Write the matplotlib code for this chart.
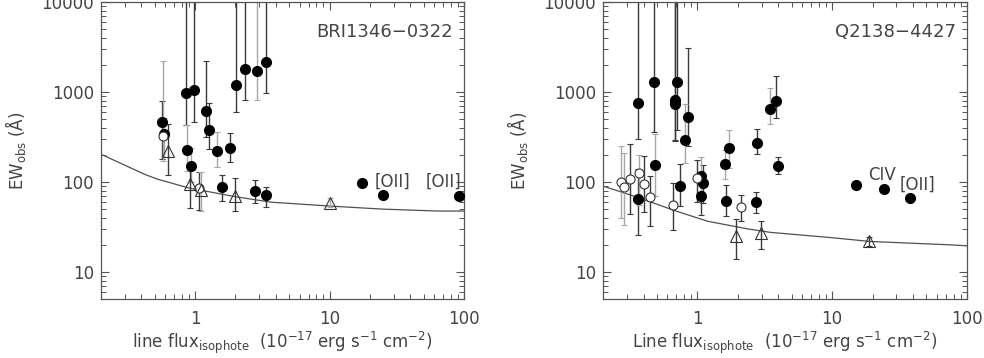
import numpy as np
import matplotlib
matplotlib.use("Agg")
import matplotlib.pyplot as plt
from matplotlib.ticker import FixedLocator, NullFormatter, FuncFormatter, LogLocator

plt.rcParams['font.family'] = ['DejaVu Sans']
plt.rcParams['mathtext.default'] = 'regular'

TOP = 1e5  # error bars running off the top of the panel

# ---------------- Left panel: BRI1346-0322 ----------------
L_fill_dark_x = [0.565, 0.857, 0.99, 1.21, 1.27, 1.83, 2.01, 2.35, 3.37, 1.58, 2.79, 3.35]
L_fill_dark_y = [464, 967, 1060, 610, 381, 236, 1186, 1800, 2154, 88, 79, 71]
L_fill_dark_lo = [180, 430, 460, 316, 232, 167, 600, 820, 980, 61, 59, 53]
L_fill_dark_hi = [800, TOP, TOP, 2200, 750, 350, TOP, TOP, TOP, 119, 105, 88]

L_fill_gray_x = [0.585, 0.87, 0.93, 1.45, 2.89]
L_fill_gray_y = [339, 227, 149, 223, 1700]
L_fill_gray_lo = [190, 132, 100, 147, 815]
L_fill_gray_hi = [520, 430, 238, 360, TOP]

L_fill_noerr_x = [17.5, 25.2, 91.9]
L_fill_noerr_y = [98, 72, 70]

L_open_x = [0.58, 1.07]
L_open_y = [324, 86]
L_open_lo = [170, 49]
L_open_hi = [2200, 129]
L_open_gray = [True, False]

L_tri_x = [0.63, 0.92, 1.11, 1.99, 10.05]
L_tri_y = [221, 94, 81, 70, 58]
L_tri_lo = [120, 51, 48, 48, 52]
L_tri_hi = [440, 140, 129, 112, 67]
L_tri_gray = [False, False, True, False, True]

L_curve_x = [0.2, 0.42, 0.52, 0.89, 2.0, 3.7, 10, 24, 63, 100]
L_curve_y = [203, 122, 108, 86, 68.5, 59.5, 54, 50, 47.5, 47.5]

L_labels = ["[OII]", "[OII]"]
L_label_x = [29.4, 70.2]
L_label_y = [101, 101]

# ---------------- Right panel: Q2138-4427 ----------------
R_fill_dark_x = [0.364, 0.364, 0.475, 0.68, 0.68, 0.71, 0.85, 0.74, 1.11, 1.06, 1.64, 2.77, 3.85, 3.94, 2.72]
R_fill_dark_y = [755, 64, 1290, 809, 730, 1290, 527, 90, 97, 70, 62, 273, 788, 152, 60]
R_fill_dark_lo = [300, 26, 362, 285, 290, 375, 251, 54, 59, 43, 42, 203, 510, 124, 45]
R_fill_dark_hi = [TOP, 140, TOP, TOP, TOP, TOP, 3100, 160, 153, 110, 93, 391, 1495, 190, 78]

R_fill_gray_x = [0.483, 0.81, 1.06, 1.61, 1.73, 3.46, 15.0]
R_fill_gray_y = [155, 293, 117, 158, 241, 647, 93]
R_fill_gray_lo = [70, 162, 75, 108, 144, 437, 85]
R_fill_gray_hi = [340, 735, 187, 227, 378, 1120, 102]

R_fill_noerr_x = [24.4, 37.5]
R_fill_noerr_y = [83, 67]

R_open_x = [0.272, 0.288, 0.317, 0.372, 0.405, 0.45, 0.665, 1.0, 2.1]
R_open_y = [101, 88, 107, 125, 94, 68, 56, 110, 52]
R_open_lo = [40, 33, 44, 55, 46, 32, 29, 60, 37]
R_open_hi = [250, 212, 264, 200, 195, 116, 97, 175, 72]
R_open_gray = [True, True, False, True, False, False, False, False, False]

R_tri_x = [1.94, 2.97, 18.8]
R_tri_y = [25, 27, 22]
R_tri_lo = [14, 18, 19.5]
R_tri_hi = [39, 37, 24.5]
R_tri_gray = [False, False, False]

R_curve_x = [0.2, 0.366, 0.68, 1.2, 2.39, 3.5, 10, 19.1, 75, 100]
R_curve_y = [90, 67, 48, 36.5, 30, 27.5, 24, 21.8, 20, 19.5]

R_labels = ["CIV", "[OII]"]
R_label_x = [23.5, 42.9]
R_label_y = [118, 92]

DARK = '#3a3a3a'
GRAY = '#a8a8a8'
TXT = '#444444'


def errs(y, lo, hi):
    y = np.asarray(y, float)
    return np.vstack([y - np.asarray(lo, float), np.asarray(hi, float) - y])


def draw_panel(ax, d, title, xlabel_word):
    kw = dict(ls='none', elinewidth=1.0, capsize=2, capthick=0.8, zorder=2)
    ax.errorbar(d['fdx'], d['fdy'], yerr=errs(d['fdy'], d['fdlo'], d['fdhi']), fmt='none', ecolor=DARK, **kw)
    ax.errorbar(d['fgx'], d['fgy'], yerr=errs(d['fgy'], d['fglo'], d['fghi']), fmt='none', ecolor=GRAY, **kw)
    for x, y, lo, hi, g in zip(d['ox'], d['oy'], d['olo'], d['ohi'], d['og']):
        ax.errorbar([x], [y], yerr=errs([y], [lo], [hi]), fmt='none', ecolor=GRAY if g else DARK, **kw)
    for x, y, lo, hi, g in zip(d['tx'], d['ty'], d['tlo'], d['thi'], d['tg']):
        ax.errorbar([x], [y], yerr=errs([y], [lo], [hi]), fmt='none', ecolor=GRAY if g else DARK, **kw)
    ax.plot(d['cx'], d['cy'], color='#505050', lw=0.9, zorder=1)
    ax.plot(d['fdx'] + d['fgx'] + d['fnx'], d['fdy'] + d['fgy'] + d['fny'], 'o', color='black',
            ms=7, mec='black', zorder=3)
    ax.plot(d['ox'], d['oy'], 'o', mfc='white', mec='#333333', mew=0.8, ms=6.5, zorder=3)
    ax.plot(d['tx'], d['ty'], '^', mfc='none', mec='#333333', mew=0.8, ms=8.5, zorder=3)
    for t, x, y in zip(d['lab'], d['lx'], d['ly']):
        ax.text(x, y, t, ha='center', va='center', fontsize=12, color=TXT)

    ax.set_xscale('log')
    ax.set_yscale('log')
    ax.set_xlim(0.2, 100)
    ax.set_ylim(5, 10000)
    ax.xaxis.set_major_locator(FixedLocator([1, 10, 100]))
    ax.yaxis.set_major_locator(FixedLocator([10, 100, 1000, 10000]))
    ax.xaxis.set_minor_locator(LogLocator(base=10, subs=np.arange(2, 10)))
    ax.yaxis.set_minor_locator(LogLocator(base=10, subs=np.arange(2, 10)))
    fmt = FuncFormatter(lambda v, p: '%d' % round(v))
    ax.xaxis.set_major_formatter(fmt)
    ax.yaxis.set_major_formatter(fmt)
    ax.xaxis.set_minor_formatter(NullFormatter())
    ax.yaxis.set_minor_formatter(NullFormatter())
    ax.tick_params(which='both', direction='in', top=True, right=True, color='#555555')
    ax.tick_params(which='major', length=6, width=0.8, labelsize=12, labelcolor=TXT)
    ax.tick_params(which='minor', length=3.5, width=0.7)
    ax.tick_params(axis='x', which='major', pad=8)
    ax.tick_params(axis='y', which='major', pad=5)
    for s in ax.spines.values():
        s.set_color('#555555')
        s.set_linewidth(0.9)
    ax.text(0.97, 0.9, title, transform=ax.transAxes, ha='right', va='center', fontsize=13, color=TXT)
    ax.set_xlabel(xlabel_word + r' flux$_{isophote}$  (10$^{-17}$ erg s$^{-1}$ cm$^{-2}$)',
                  fontsize=12, color=TXT, labelpad=1)
    ax.set_ylabel(r'EW$_{obs}$ (Å)', fontsize=12, color=TXT, labelpad=10)


fig = plt.figure(figsize=(9.84, 3.58), dpi=100)
axL = fig.add_axes([101 / 984, 59 / 358, 363 / 984, 297 / 358])
axR = fig.add_axes([603 / 984, 59 / 358, 364 / 984, 297 / 358])

dL = dict(fdx=L_fill_dark_x, fdy=L_fill_dark_y, fdlo=L_fill_dark_lo, fdhi=L_fill_dark_hi,
          fgx=L_fill_gray_x, fgy=L_fill_gray_y, fglo=L_fill_gray_lo, fghi=L_fill_gray_hi,
          fnx=L_fill_noerr_x, fny=L_fill_noerr_y,
          ox=L_open_x, oy=L_open_y, olo=L_open_lo, ohi=L_open_hi, og=L_open_gray,
          tx=L_tri_x, ty=L_tri_y, tlo=L_tri_lo, thi=L_tri_hi, tg=L_tri_gray,
          cx=L_curve_x, cy=L_curve_y, lab=L_labels, lx=L_label_x, ly=L_label_y)
dR = dict(fdx=R_fill_dark_x, fdy=R_fill_dark_y, fdlo=R_fill_dark_lo, fdhi=R_fill_dark_hi,
          fgx=R_fill_gray_x, fgy=R_fill_gray_y, fglo=R_fill_gray_lo, fghi=R_fill_gray_hi,
          fnx=R_fill_noerr_x, fny=R_fill_noerr_y,
          ox=R_open_x, oy=R_open_y, olo=R_open_lo, ohi=R_open_hi, og=R_open_gray,
          tx=R_tri_x, ty=R_tri_y, tlo=R_tri_lo, thi=R_tri_hi, tg=R_tri_gray,
          cx=R_curve_x, cy=R_curve_y, lab=R_labels, lx=R_label_x, ly=R_label_y)

draw_panel(axL, dL, 'BRI1346−0322', 'line')
draw_panel(axR, dR, 'Q2138−4427', 'Line')

fig.savefig('out.png', dpi=100)
